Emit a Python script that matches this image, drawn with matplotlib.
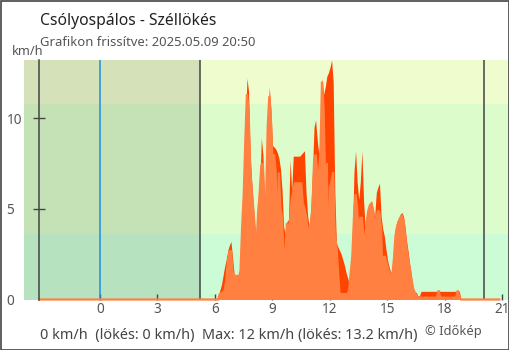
import numpy as np
import matplotlib
matplotlib.use("Agg")
import matplotlib.pyplot as plt
from matplotlib.patches import Rectangle

plt.rcParams['font.family'] = ['Noto Sans', 'DejaVu Sans']

# ---------------- text ----------------
title = "Csólyospálos - Széllökés"
subtitle = "Grafikon frissítve: 2025.05.09 20:50"
unit = "km/h"
summary = "0 km/h  (lökés: 0 km/h)  Max: 12 km/h (lökés: 13.2 km/h)"
credit = "© Időkép"

# ---------------- time frame (hours relative to midnight) ----------------
window_start = -3.167   # 20:50 previous day
window_end = 20.833     # 20:50
sunrise = 5.22
sunset = 20.03
midnight = 0.0

x_ticks = [0, 3, 6, 9, 12, 15, 18, 21]
y_ticks = [0, 5, 10]
band_edges = [0, 3.6, 10.8, 13.2]
band_colors = ['#ccfcd6', '#dcfccc', '#eefcce']

# ---------------- data: 5-minute values from 06:00 to 19:00 ----------------
data_start = 6.0
step_minutes = 5

wind = [
    0, 0, 0, 0.3, 0.3, 0.4, 0.5, 1.0, 2.0, 2.6, 2.7, 1.5,            # 6
    1.3, 1.3, 1.3, 1.2, 1.6, 4.0, 5.8, 8.8, 11.3, 10.5, 7.3, 6.0,     # 7
    5.0, 3.8, 2.9, 4.8, 5.9, 7.4, 7.5, 4.6, 5.5, 9.5, 11.2, 10.0,     # 8
    7.5, 8.0, 7.0, 3.0, 7.0, 5.0, 4.5, 2.0, 2.5, 4.2, 3.6, 4.4,       # 9
    5.5, 5.9, 6.4, 6.4, 6.4, 6.4, 6.4, 5.3, 5.0, 4.6, 3.9, 3.8,       # 10
    4.2, 5.0, 7.5, 8.0, 7.0, 6.8, 8.0, 12.0, 10.5, 6.5, 7.5, 1.0,     # 11
    6.2, 6.5, 7.0, 3.5, 3.0, 1.5, 0.3, 0.3, 0.3, 0.3, 0.3, 0.3,       # 12
    0.5, 1.5, 2.4, 4.5, 5.8, 5.0, 3.5, 4.5, 4.5, 3.5, 3.1, 4.3,       # 13
    4.9, 5.2, 5.3, 4.9, 4.4, 4.4, 4.9, 4.8, 3.8, 0.8, 2.4, 2.2,       # 14
    1.8, 1.5, 1.3, 1.3, 2.2, 3.5, 4.0, 4.3, 4.5, 4.6, 4.4, 3.5,       # 15
    2.8, 2.2, 1.7, 1.1, 0.6, 0.4, 0.2, 0.1, 0.1, 0.1, 0.1, 0.1,       # 16
    0.1, 0.1, 0.1, 0.1, 0.1, 0.1, 0.1, 0.1, 0.5, 0.1, 0.1, 0.1,       # 17
    0.1, 0.1, 0.1, 0.1, 0.1, 0.1, 0.1, 0.1, 0.5, 0.1, 0, 0,           # 18
    0,                                                                # 19
]

gust = [
    0, 0, 0, 0.5, 0.8, 1.3, 1.8, 2.2, 2.7, 3.0, 3.2, 2.3,             # 6
    1.4, 1.3, 1.3, 1.2, 1.7, 4.2, 6.0, 9.5, 12.2, 11.5, 8.0, 6.5,     # 7
    5.2, 4.0, 3.1, 5.0, 6.0, 8.9, 8.0, 5.5, 6.0, 9.8, 11.7, 10.5,     # 8
    8.5, 8.4, 8.3, 8.1, 7.8, 7.2, 6.0, 4.0, 3.6, 4.3, 4.4, 7.7,       # 9
    6.0, 7.9, 7.9, 7.9, 7.9, 7.9, 8.0, 8.1, 8.2, 5.9, 4.6, 4.0,       # 10
    5.0, 7.0, 9.5, 9.9, 8.8, 8.0, 9.0, 12.2, 11.3, 11.7, 12.3, 12.5,  # 11
    12.8, 13.2, 12.0, 6.0, 3.1, 2.9, 2.7, 2.5, 2.2, 1.9, 1.5, 1.2,    # 12
    0.9, 1.5, 3.5, 7.0, 8.2, 6.5, 5.5, 6.5, 8.2, 5.5, 4.0, 4.5,       # 13
    5.0, 5.3, 5.4, 5.0, 4.6, 5.9, 6.2, 6.4, 4.6, 3.9, 3.5, 2.8,       # 14
    2.2, 1.8, 1.5, 1.5, 2.6, 4.0, 4.3, 4.5, 4.7, 4.8, 4.6, 4.0,       # 15
    3.2, 2.6, 1.9, 1.3, 0.7, 0.4, 0.4, 0.2, 0.2, 0.45, 0.45, 0.45,    # 16
    0.45, 0.45, 0.45, 0.45, 0.45, 0.45, 0.45, 0.45, 0.5, 0.45, 0.45, 0.45,  # 17
    0.45, 0.45, 0.45, 0.45, 0.45, 0.45, 0.45, 0.45, 0.5, 0.45, 0, 0,  # 18
    0,                                                                # 19
]

# ---------------- figure ----------------
W, H = 510, 350
fig = plt.figure(figsize=(W / 100, H / 100), dpi=100)
fig.patch.set_facecolor('white')

ax_left, ax_right, ax_top, ax_bottom = 24, 509, 60, 299.5
ax = fig.add_axes([ax_left / W, 1 - ax_bottom / H,
                   (ax_right - ax_left) / W, (ax_bottom - ax_top) / H])

x_min = -3.965
x_max = 21.34
ax.set_xlim(x_min, x_max)
ax.set_ylim(band_edges[0], band_edges[-1])

# background bands
for lo, hi, c in zip(band_edges[:-1], band_edges[1:], band_colors):
    ax.axhspan(lo, hi, color=c, lw=0, zorder=0)
# night shading
ax.axvspan(x_min, sunrise, color='black', alpha=0.1, lw=0, zorder=1)

# vertical markers
ax.axvline(midnight, color='#1e8fe0', lw=1.1, zorder=2)
ax.axvline(sunrise, color='#444444', lw=1.1, zorder=2)
ax.axvline(sunset, color='#444444', lw=1.1, zorder=2)

# series
t = data_start + np.arange(len(wind)) * step_minutes / 60.0
t_full = np.concatenate([[window_start], t, [window_end]])
w_full = np.concatenate([[0], wind, [0]])
g_full = np.concatenate([[0], gust, [0]])

ax.fill_between(t_full, 0, g_full, color='#ff4400', lw=0, zorder=3)
ax.fill_between(t_full, 0, w_full, color='#ff8040', lw=0, zorder=4)
ax.plot(t_full, w_full, color='#ff8040', lw=1.6, zorder=5, clip_on=False,
        solid_joinstyle='miter')

# axes styling
for s in ['top', 'right', 'bottom']:
    ax.spines[s].set_visible(False)
ax.spines['left'].set_position(('data', window_start))
ax.spines['left'].set_color('#444444')
ax.spines['left'].set_linewidth(1.1)
ax.spines['left'].set_zorder(6)

ax.set_xticks(x_ticks)
ax.set_xticklabels([str(v) for v in x_ticks])
ax.set_yticks(y_ticks)
ax.set_yticklabels([str(v) for v in y_ticks])

ax.tick_params(axis='x', direction='in', length=4.3, width=1, color='#444444',
               labelsize=9.8, labelcolor='#555555', pad=1.5)
ax.tick_params(axis='y', direction='inout', length=8.6, width=1, color='#444444',
               labelsize=9.8, labelcolor='#555555', pad=19.4)
for lab in ax.get_yticklabels():
    lab.set_horizontalalignment('left')
ax.yaxis.get_major_ticks()[0].tick1line.set_visible(False)

# texts
def px(x, y):
    return x / W, 1 - y / H

fig.text(*px(40, 25), title, fontsize=11.3, color='#222222', va='baseline', ha='left')
fig.text(*px(40, 45.5), subtitle, fontsize=9.4, color='#555555', va='baseline', ha='left')
fig.text(*px(12, 55), unit, fontsize=9.2, color='#555555', va='baseline', ha='left')
fig.text(*px(40, 339), summary, fontsize=10.4, color='#444444', va='baseline', ha='left')
fig.text(*px(425, 335.5), credit, fontsize=9.3, color='#555555', va='baseline', ha='left')

# frame
fig.patches.append(Rectangle((0.5 / W, 0.5 / H), (W - 1.5) / W, (H - 1.5) / H,
                             transform=fig.transFigure, fill=False,
                             edgecolor='#444444', lw=1.2))

fig.savefig('out.png', dpi=100, facecolor='white')
